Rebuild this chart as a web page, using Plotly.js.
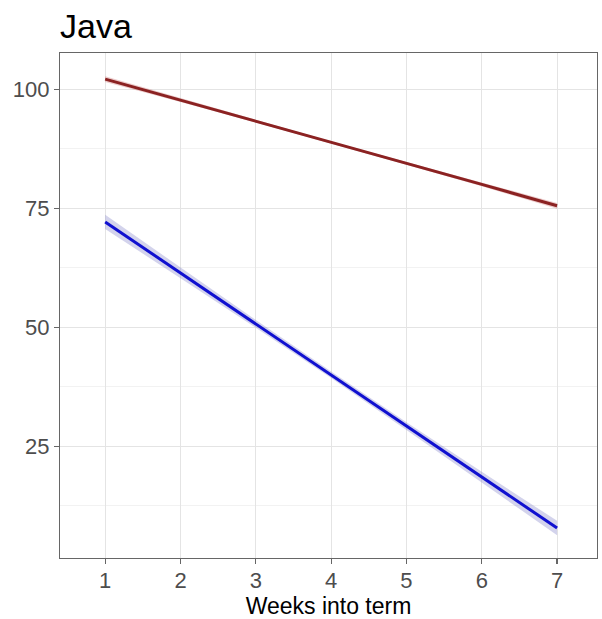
<!DOCTYPE html>
<html><head><meta charset="utf-8">
<script src="https://cdn.plot.ly/plotly-3.0.1.min.js"></script>
<style>body{margin:0;background:#fff}</style>
</head><body><div id="chart" style="width:602px;height:619px"></div>
<script>
const weeks = [1, 2, 3, 4, 5, 6, 7];
const redFit = [102.1, 97.7, 93.3, 88.8, 84.4, 80.0, 75.5];
const redLow = [101.5, 97.3, 93.0, 88.6, 84.1, 79.6, 74.9];
const redHigh = [102.7, 98.1, 93.6, 89.0, 84.7, 80.4, 76.1];
const blueFit = [72.1, 61.4, 50.7, 40.0, 29.2, 18.5, 7.8];
const blueLow = [70.6, 60.3, 49.9, 39.3, 28.4, 17.4, 6.3];
const blueHigh = [73.6, 62.5, 51.5, 40.7, 30.0, 19.6, 9.3];
const yTicks = [25, 50, 75, 100];
const xTicks = [1, 2, 3, 4, 5, 6, 7];

function ribbon(lo, hi, fill) {
  return {
    x: weeks.concat(weeks.slice().reverse()),
    y: hi.concat(lo.slice().reverse()),
    type: 'scatter', mode: 'lines', fill: 'toself',
    fillcolor: fill, line: {width: 0},
    hoverinfo: 'skip', showlegend: false
  };
}
const data = [
  ribbon(redLow, redHigh, 'rgba(200,110,110,0.35)'),
  ribbon(blueLow, blueHigh, 'rgba(130,130,200,0.35)'),
  {x: weeks, y: redFit, type: 'scatter', mode: 'lines', line: {color: '#8B2222', width: 3}, showlegend: false},
  {x: weeks, y: blueFit, type: 'scatter', mode: 'lines', line: {color: '#1010D0', width: 3}, showlegend: false}
];
const layout = {
  width: 602, height: 619,
  margin: {l: 60, r: 5, t: 53, b: 61},
  paper_bgcolor: '#fff', plot_bgcolor: '#fff',
  font: {family: 'Liberation Sans, Arial, sans-serif', color: '#4d4d4d'},
  title: {text: 'Java', x: 60/602, xref: 'container', xanchor: 'left', y: 1 - 26/619, yanchor: 'middle', yref: 'container',
          font: {size: 34, color: '#000'}},
  xaxis: {
    range: [0.4, 7.53], tickvals: xTicks, ticktext: xTicks.map(String),
    ticks: 'outside', ticklen: 5, tickcolor: '#666', tickwidth: 1.2,
    tickfont: {size: 22, color: '#4d4d4d'}, ticklabelstandoff: -3,
    showgrid: true, gridcolor: '#e4e4e4', gridwidth: 1,
    showline: true, linecolor: '#666', linewidth: 1.2, mirror: true, zeroline: false,
    title: {text: 'Weeks into term', font: {size: 23, color: '#000'}, standoff: 8}
  },
  yaxis: {
    range: [1.5, 107.6], tickvals: yTicks, ticktext: yTicks.map(String),
    ticks: 'outside', ticklen: 5, tickcolor: '#666', tickwidth: 1.2,
    tickfont: {size: 22, color: '#4d4d4d'},
    showgrid: true, gridcolor: '#e4e4e4', gridwidth: 1,
    minor: {tickvals: [12.5, 37.5, 62.5, 87.5], showgrid: true, gridcolor: '#f2f2f2', gridwidth: 1, ticks: ''},
    showline: true, linecolor: '#666', linewidth: 1.2, mirror: true, zeroline: false
  }
};
Plotly.newPlot('chart', data, layout, {displayModeBar: false, staticPlot: true});
</script></body></html>
